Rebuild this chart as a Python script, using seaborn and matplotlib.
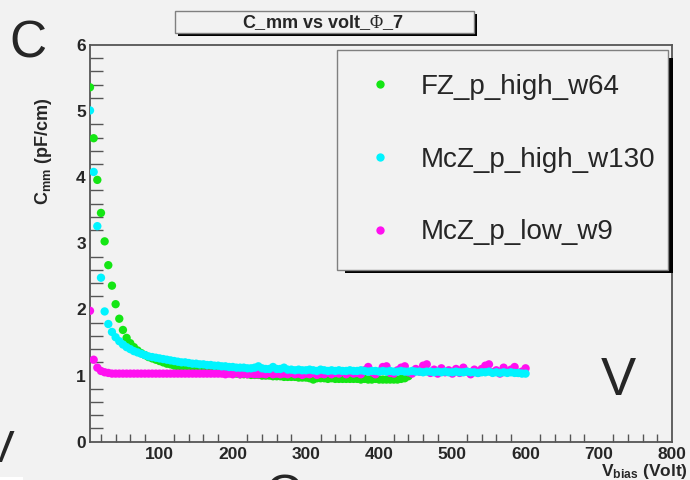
import numpy as np
import pandas as pd
import matplotlib
matplotlib.use("Agg")
import matplotlib.pyplot as plt
from matplotlib.patches import Rectangle
from matplotlib.ticker import MultipleLocator
import seaborn as sns

# ---------------- data ----------------
series_names = ["FZ_p_high_w64", "McZ_p_high_w130", "McZ_p_low_w9"]
series_colors = ["#14e614", "#00f4ff", "#ff10f0"]

volt_fz = list(range(5, 445, 5))
c_fz = [5.36, 4.59, 3.96, 3.46, 3.03, 2.67, 2.36, 2.08, 1.86, 1.69,
        1.57, 1.49, 1.43, 1.38, 1.34, 1.31, 1.28, 1.26, 1.24, 1.22,
        1.20, 1.18, 1.17, 1.15, 1.14, 1.13, 1.12, 1.11, 1.10, 1.09,
        1.08, 1.08, 1.07, 1.06, 1.06, 1.05, 1.05, 1.04, 1.04, 1.03,
        1.03, 1.02, 1.02, 1.02, 1.01, 1.01, 1.01, 1.00, 1.00, 1.00,
        0.99, 0.99, 0.99, 0.98, 0.98, 0.98, 0.98, 0.97, 0.97, 0.97,
        0.96, 0.94, 0.96, 0.96, 0.96, 0.95, 0.96, 0.95, 0.95, 0.95,
        0.95, 0.95, 0.95, 0.95, 0.94, 0.95, 0.94, 0.94, 0.95, 0.94,
        0.94, 0.94, 0.94, 0.94, 0.94, 0.95, 0.96, 0.99]

volt_mcz = list(range(5, 605, 5))
c_mcz_high = [5.01, 4.08, 3.26, 2.48, 1.97, 1.78, 1.66, 1.58, 1.52, 1.47,
              1.43, 1.40, 1.37, 1.35, 1.33, 1.31, 1.29, 1.28, 1.27, 1.26,
              1.25, 1.24, 1.23, 1.22, 1.21, 1.20, 1.20, 1.19, 1.18, 1.18,
              1.17, 1.17, 1.16, 1.16, 1.15, 1.15, 1.14, 1.14, 1.13, 1.13,
              1.12, 1.12, 1.12, 1.11, 1.11, 1.12, 1.14, 1.11, 1.10, 1.10,
              1.13, 1.10, 1.10, 1.12, 1.09, 1.09, 1.08, 1.09, 1.08, 1.08,
              1.09, 1.08, 1.07, 1.09, 1.08, 1.07, 1.08, 1.07, 1.08, 1.07,
              1.07, 1.08, 1.07, 1.07, 1.08, 1.07, 1.06, 1.07, 1.07, 1.06,
              1.07, 1.06, 1.07, 1.06, 1.06, 1.07, 1.06, 1.06, 1.07, 1.06,
              1.06, 1.05, 1.06, 1.06, 1.05, 1.06, 1.05, 1.06, 1.05, 1.05,
              1.06, 1.05, 1.05, 1.06, 1.05, 1.05, 1.04, 1.05, 1.05, 1.06,
              1.04, 1.05, 1.04, 1.05, 1.04, 1.05, 1.04, 1.04, 1.03, 1.03]
c_mcz_low = [1.98, 1.24, 1.12, 1.07, 1.05, 1.04, 1.03, 1.03, 1.03, 1.03,
             1.03, 1.03, 1.03, 1.03, 1.03, 1.03, 1.03, 1.03, 1.03, 1.03,
             1.03, 1.03, 1.03, 1.03, 1.03, 1.03, 1.03, 1.03, 1.03, 1.03,
             1.03, 1.03, 1.03, 1.03, 1.03, 1.03, 1.03, 1.02, 1.03, 1.02,
             1.04, 1.02, 1.03, 1.02, 1.03, 1.02, 1.02, 1.03, 1.02, 1.04,
             1.02, 1.03, 1.02, 1.03, 1.02, 1.04, 1.02, 1.03, 1.01, 1.03,
             1.02, 1.04, 1.01, 1.03, 1.02, 1.05, 1.02, 1.04, 1.03, 1.06,
             1.02, 1.05, 1.03, 1.04, 1.02, 1.08, 1.13, 1.05, 1.02, 1.06,
             1.13, 1.14, 1.04, 1.03, 1.08, 1.12, 1.14, 1.05, 1.03, 1.10,
             1.06, 1.15, 1.17, 1.04, 1.09, 1.03, 1.11, 1.05, 1.08, 1.03,
             1.10, 1.04, 1.12, 1.06, 1.02, 1.09, 1.04, 1.10, 1.15, 1.17,
             1.05, 1.08, 1.03, 1.12, 1.05, 1.09, 1.13, 1.04, 1.06, 1.11]

y_ticks = [0, 1, 2, 3, 4, 5, 6]
x_ticks = [100, 200, 300, 400, 500, 600, 700, 800]

# draw order: FZ, McZ low, McZ high (cyan on top)
df = pd.concat([
    pd.DataFrame({"volt": volt_fz, "C": c_fz, "sample": series_names[0]}),
    pd.DataFrame({"volt": volt_mcz, "C": c_mcz_low, "sample": series_names[2]}),
    pd.DataFrame({"volt": volt_mcz, "C": c_mcz_high, "sample": series_names[1]}),
], ignore_index=True)

# ---------------- style ----------------
sns.set_theme(style="white")
BG = "#f2f2f2"
plt.rcParams["font.family"] = ["Liberation Sans", "DejaVu Sans"]
plt.rcParams["mathtext.fontset"] = "custom"
plt.rcParams["mathtext.rm"] = "Liberation Sans"
plt.rcParams["mathtext.bf"] = "Liberation Sans:bold"
plt.rcParams["mathtext.it"] = "Liberation Sans:italic"
plt.rcParams["mathtext.sf"] = "Liberation Serif"

W, H = 690, 480
def fx(px):
    return px / W
def fy(py):
    return 1 - py / H

fig = plt.figure(figsize=(6.9, 4.8), dpi=100, facecolor=BG)
ax = fig.add_axes([fx(90), fy(441.7), fx(672) - fx(90), fy(45) - fy(441.7)])
ax.set_facecolor(BG)

sns.scatterplot(data=df, x="volt", y="C", hue="sample", hue_order=series_names,
                palette=dict(zip(series_names, series_colors)), s=36,
                linewidth=0, ax=ax, legend=True, zorder=3)

ax.set_xlim(5, 800)
ax.set_ylim(0, 6)
ax.set_xticks(x_ticks)
ax.set_xticklabels([str(t) for t in x_ticks])
ax.set_yticks(y_ticks)
ax.set_yticklabels([str(t) for t in y_ticks])
ax.xaxis.set_minor_locator(MultipleLocator(20))
ax.yaxis.set_minor_locator(MultipleLocator(0.2))
spine_col = "#555555"
for sp in ax.spines.values():
    sp.set_color(spine_col)
    sp.set_linewidth(1.3)
ax.tick_params(axis="y", which="major", direction="in", length=17, width=1,
               color=spine_col, pad=3, labelsize=12.5)
ax.tick_params(axis="y", which="minor", direction="in", length=9, width=1,
               color=spine_col, left=True)
ax.tick_params(axis="x", which="major", direction="in", length=12, width=1,
               color=spine_col, pad=4, labelsize=12.5)
ax.tick_params(axis="x", which="minor", direction="in", length=6, width=1,
               color=spine_col, bottom=True)
for lab in ax.get_xticklabels() + ax.get_yticklabels():
    lab.set_fontweight("bold")
ax.set_xlabel("")
ax.set_ylabel("")

# legend
handles, labels = ax.get_legend_handles_labels()
order = [labels.index(n) for n in series_names]
handles = [handles[i] for i in order]
labels = [labels[i] for i in order]
for h in handles:
    h.set_markersize(6)
leg = ax.legend(handles, labels, loc="upper left", mode="expand",
                bbox_to_anchor=(fx(337), fy(268), fx(668) - fx(337), fy(50) - fy(268)),
                bbox_transform=fig.transFigure, borderaxespad=0,
                prop={"family": "Liberation Sans", "size": 20},
                labelspacing=1.68, borderpad=0.87, handlelength=1.35,
                handletextpad=0.81, fancybox=False, frameon=True)
leg.get_frame().set_facecolor(BG)
leg.get_frame().set_edgecolor("#808080")
leg.get_frame().set_linewidth(1.0)
leg.get_frame().set_alpha(1)
leg.set_zorder(6)
ax.add_patch(Rectangle((fx(345), fy(273)), fx(673) - fx(345), fy(58) - fy(273),
                       transform=fig.transFigure, facecolor="black",
                       edgecolor="none", zorder=5, clip_on=False))

# title box with shadow
fig.add_artist(Rectangle((fx(178), fy(36)), fx(477) - fx(178), fy(14) - fy(36),
                         transform=fig.transFigure, facecolor="black",
                         edgecolor="none", zorder=1))
fig.add_artist(Rectangle((fx(175), fy(33)), fx(474) - fx(175), fy(11) - fy(33),
                         transform=fig.transFigure, facecolor=BG,
                         edgecolor="#808080", linewidth=1, zorder=2))
fig.text(fx(323), fy(22.5), r"C_mm vs volt_$\mathsf{\Phi}$_7", ha="center",
         va="center", fontsize=13, fontweight="bold", zorder=3)

# axis titles
fig.text(fx(43), fy(98), r"C$_{\mathbf{mm}}$ (pF/cm)", rotation=90,
         ha="center", va="top", fontsize=13, fontweight="bold")
fig.text(fx(688), fy(476), r"V$_{\mathbf{bias}}$ (Volt)", ha="right",
         va="baseline", fontsize=12.5, fontweight="bold")

# panel annotations
fig.text(fx(9), fy(57), "C", fontsize=37, ha="left", va="baseline")
fig.text(fx(601), fy(395), "V", fontsize=38, ha="left", va="baseline")
fig.text(fx(14), fy(462), "V", fontsize=32, ha="right", va="baseline")
fig.text(fx(264), fy(512), "C", fontsize=37, ha="left", va="baseline")
fig.add_artist(Rectangle((0, 0), fx(23), 3 / H, transform=fig.transFigure,
                         facecolor="white", edgecolor="none"))

fig.savefig("out.png", dpi=100, facecolor=BG)
